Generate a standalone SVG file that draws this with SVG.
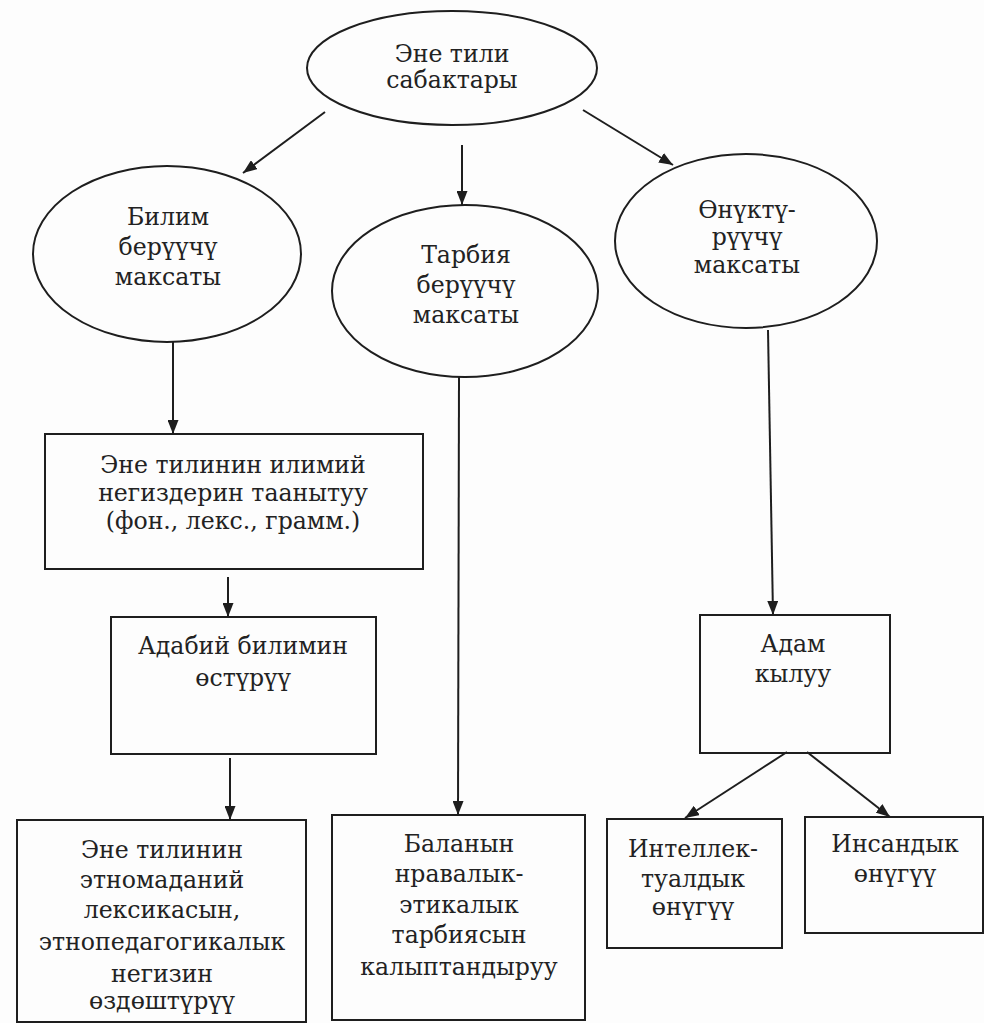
<svg xmlns="http://www.w3.org/2000/svg" width="984" height="1023" viewBox="0 0 984 1023">
<style>
.shape{fill:none;stroke:#1e1e1e;stroke-width:2}
.t{font-family:"DejaVu Serif","Liberation Serif",serif;font-size:23.6px;fill:#222;text-anchor:middle}
.c{stroke:#1e1e1e;stroke-width:2;fill:none;marker-end:url(#ah)}
</style>
<defs>
<marker id="ah" viewBox="0 0 14 11" refX="14" refY="5.5" markerWidth="14" markerHeight="11" markerUnits="userSpaceOnUse" orient="auto">
<path d="M0,0 L14,5.5 L0,11 z" fill="#1e1e1e"/>
</marker>
</defs>
<rect width="984" height="1023" fill="#fdfdfd"/>
<g id="connectors">
<line class="c" x1="325" y1="112" x2="243" y2="173"/>
<line class="c" x1="462" y1="145" x2="462" y2="205"/>
<line class="c" x1="583" y1="110" x2="673" y2="165"/>
<line class="c" x1="173" y1="342" x2="173" y2="434"/>
<line class="c" x1="228" y1="577" x2="228" y2="617"/>
<line class="c" x1="230" y1="758" x2="230" y2="820"/>
<line class="c" x1="459" y1="377" x2="458" y2="815"/>
<line class="c" x1="768" y1="330" x2="773" y2="615"/>
<line class="c" x1="787" y1="752" x2="685" y2="818"/>
<line class="c" x1="807" y1="752" x2="890" y2="817"/>
</g>
<g id="root">
<ellipse class="shape" cx="452" cy="68" rx="145" ry="57"/>
<text class="t" x="452" y="62">Эне тили</text>
<text class="t" x="452" y="88">сабактары</text>
</g>
<g id="bilim">
<ellipse class="shape" cx="167" cy="254" rx="134" ry="88"/>
<text class="t" x="168" y="225">Билим</text>
<text class="t" x="168" y="255">берүүчү</text>
<text class="t" x="168" y="285">максаты</text>
</g>
<g id="tarbiya">
<ellipse class="shape" cx="465" cy="291" rx="133" ry="86"/>
<text class="t" x="466" y="263">Тарбия</text>
<text class="t" x="466" y="293">берүүчү</text>
<text class="t" x="466" y="323">максаты</text>
</g>
<g id="onuktur">
<ellipse class="shape" cx="746" cy="241" rx="131" ry="87"/>
<text class="t" x="747" y="218">Өнүктү-</text>
<text class="t" x="747" y="245">рүүчү</text>
<text class="t" x="747" y="273">максаты</text>
</g>
<g id="box1">
<rect class="shape" x="45" y="434" width="378" height="135"/>
<text class="t" x="233" y="473">Эне тилинин илимий</text>
<text class="t" x="233" y="501">негиздерин таанытуу</text>
<text class="t" x="233" y="529">(фон., лекс., грамм.)</text>
</g>
<g id="box2">
<rect class="shape" x="111" y="617" width="265" height="137"/>
<text class="t" x="243" y="654">Адабий билимин</text>
<text class="t" x="243" y="686">өстүрүү</text>
</g>
<g id="box3">
<rect class="shape" x="17" y="820" width="289" height="202"/>
<text class="t" x="162" y="858">Эне тилинин</text>
<text class="t" x="162" y="888">этномаданий</text>
<text class="t" x="162" y="918">лексикасын,</text>
<text class="t" x="162" y="950">этнопедагогикалык</text>
<text class="t" x="162" y="982">негизин</text>
<text class="t" x="162" y="1009">өздөштүрүү</text>
</g>
<g id="box4">
<rect class="shape" x="332" y="815" width="253" height="205"/>
<text class="t" x="459" y="852">Баланын</text>
<text class="t" x="459" y="882">нравалык-</text>
<text class="t" x="459" y="913">этикалык</text>
<text class="t" x="459" y="943">тарбиясын</text>
<text class="t" x="459" y="975">калыптандыруу</text>
</g>
<g id="adam">
<rect class="shape" x="700" y="615" width="190" height="138"/>
<text class="t" x="793" y="652">Адам</text>
<text class="t" x="793" y="682">кылуу</text>
</g>
<g id="box5">
<rect class="shape" x="607" y="819" width="175" height="129"/>
<text class="t" x="693" y="857">Интеллек-</text>
<text class="t" x="693" y="887">туалдык</text>
<text class="t" x="693" y="915">өнүгүү</text>
</g>
<g id="box6">
<rect class="shape" x="805" y="817" width="178" height="116"/>
<text class="t" x="895" y="852">Инсандык</text>
<text class="t" x="895" y="882">өнүгүү</text>
</g>
</svg>
